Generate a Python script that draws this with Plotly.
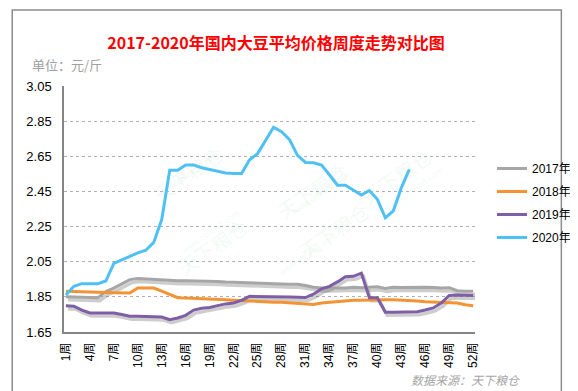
import plotly.graph_objects as go

# ---------------- data ----------------
weeks = list(range(1, 53))
tick_weeks = [1, 4, 7, 10, 13, 16, 19, 22, 25, 28, 31, 34, 37, 40, 43, 46, 49, 52]
tick_labels = ["1周", "4周", "7周", "10周", "13周", "16周", "19周", "22周", "25周",
               "28周", "31周", "34周", "37周", "40周", "43周", "46周", "49周", "52周"]
y_ticks = [1.65, 1.85, 2.05, 2.25, 2.45, 2.65, 2.85, 3.05]

v2017 = [1.850, 1.850, 1.848, 1.846, 1.845, 1.880, 1.900, 1.922, 1.948, 1.955,
         1.952, 1.948, 1.945, 1.942, 1.942, 1.942, 1.942, 1.942, 1.940, 1.938,
         1.935, 1.933, 1.932, 1.928, 1.925, 1.923, 1.923, 1.923, 1.922, 1.922,
         1.915, 1.905, 1.900, 1.900, 1.902, 1.900, 1.905, 1.902, 1.905, 1.907,
         1.898, 1.905, 1.903, 1.905, 1.905, 1.905, 1.903, 1.900, 1.902, 1.885,
         1.882, 1.882]
v2018 = [1.882, 1.880, 1.879, 1.878, 1.876, 1.875, 1.874, 1.873, 1.872, 1.900,
         1.900, 1.900, 1.882, 1.862, 1.845, 1.843, 1.842, 1.840, 1.838, 1.836,
         1.834, 1.831, 1.828, 1.825, 1.823, 1.821, 1.820, 1.819, 1.816, 1.812,
         1.808, 1.806, 1.815, 1.819, 1.822, 1.828, 1.831, 1.831, 1.833, 1.834,
         1.834, 1.833, 1.832, 1.829, 1.826, 1.822, 1.820, 1.819, 1.819, 1.815,
         1.805, 1.800]
v2019 = [1.800, 1.797, 1.775, 1.758, 1.758, 1.758, 1.758, 1.750, 1.740, 1.739,
         1.739, 1.739, 1.735, 1.720, 1.730, 1.745, 1.775, 1.785, 1.790, 1.800,
         1.810, 1.815, 1.830, 1.853, 1.853, 1.852, 1.851, 1.850, 1.849, 1.848,
         1.846, 1.865, 1.895, 1.910, 1.935, 1.965, 1.967, 1.985, 1.845, 1.845,
         1.762, 1.762, 1.762, 1.762, 1.765, 1.775, 1.787, 1.815, 1.858, 1.860,
         1.860, 1.858]
v2020 = [1.860, 1.910, 1.925, 1.925, 1.925, 1.940, 2.040, 2.060, 2.080, 2.100,
         2.115, 2.160, 2.290, 2.570, 2.570, 2.600, 2.600, 2.585, 2.575, 2.565,
         2.555, 2.552, 2.552, 2.630, 2.665, 2.740, 2.815, 2.790, 2.745, 2.655,
         2.615, 2.613, 2.600, 2.545, 2.485, 2.485, 2.455, 2.430, 2.455, 2.405,
         2.300, 2.340, 2.470, 2.575]

series_names = ["2017年", "2018年", "2019年", "2020年"]
series_values = [v2017, v2018, v2019, v2020]
series_colors = ["#a6a6a6", "#f39333", "#7e5ea5", "#4fc0f6"]

# ---------------- layout geometry ----------------
W, H = 578, 391
L, R, T, B = 56, 485, 78, 324
X_RANGE = [0.76, 52.24]
Y_RANGE = [1.65, 3.05]
dx_units = 2.0 * (X_RANGE[1] - X_RANGE[0]) / (R - L)
dy_units = 3.0 * (Y_RANGE[1] - Y_RANGE[0]) / (B - T)


def px(x):
    return (x - L) / (R - L)


def py(y):
    return (B - y) / (B - T)


FONT = "Liberation Sans, Arial, Noto Sans CJK SC, sans-serif"
CJK = "Noto Sans CJK SC, Microsoft YaHei, sans-serif"

fig = go.Figure()

# invisible anchor trace on main axes
fig.add_trace(go.Scatter(x=[weeks[0]], y=[Y_RANGE[0]], mode="markers",
                         marker=dict(opacity=0), showlegend=False,
                         hoverinfo="skip", xaxis="x", yaxis="y"))

# shadows (drawn on a slightly offset overlay axis)
for name, vals in zip(series_names, series_values):
    if name in ("2017年", "2019年"):
        fig.add_trace(go.Scatter(x=weeks[:len(vals)], y=vals, mode="lines",
                                 line=dict(color="rgba(90,90,90,0.30)", width=3.5),
                                 showlegend=False, hoverinfo="skip",
                                 xaxis="x2", yaxis="y2"))

# main lines
for name, vals, col in zip(series_names, series_values, series_colors):
    fig.add_trace(go.Scatter(x=weeks[:len(vals)], y=vals, mode="lines", name=name,
                             line=dict(color=col, width=3), legendgroup=name,
                             xaxis="x3", yaxis="y3"))

fig.update_layout(
    width=W, height=H,
    margin=dict(l=L, r=W - R, t=T, b=H - B, pad=0),
    paper_bgcolor="white", plot_bgcolor="white",
    font=dict(family=FONT, size=12, color="black"),
    title=dict(text="<b>2017-2020年国内大豆平均价格周度走势对比图</b>",
               font=dict(family=CJK, size=16, color="#ff0000"),
               x=268 / W, xanchor="center", y=1 - 35 / H, yanchor="middle",
               xref="container", yref="container"),
    xaxis=dict(range=X_RANGE, tickmode="array", tickvals=tick_weeks, ticktext=tick_labels,
               tickangle=-90, showgrid=False, zeroline=False,
               showline=True, linecolor="#868686", linewidth=1.5, ticks="",
               ticklabelstandoff=4,
               tickfont=dict(family=FONT, size=12, color="black")),
    yaxis=dict(range=Y_RANGE, tickmode="array", tickvals=y_ticks,
               ticktext=[f"{v:.2f}" for v in y_ticks],
               showgrid=True, gridcolor="#b0b0b0", griddash="dot", gridwidth=1,
               zeroline=False, showline=True, linecolor="#868686", linewidth=1.5,
               ticks="", ticklabelstandoff=8,
               tickfont=dict(family=FONT, size=13, color="black")),
    xaxis2=dict(range=[X_RANGE[0] - dx_units, X_RANGE[1] - dx_units], overlaying="x",
                visible=False),
    yaxis2=dict(range=[Y_RANGE[0] + dy_units, Y_RANGE[1] + dy_units], overlaying="y",
                visible=False),
    xaxis3=dict(range=X_RANGE, overlaying="x", visible=False),
    yaxis3=dict(range=Y_RANGE, overlaying="y", visible=False),
    legend=dict(xref="container", yref="container", x=484 / W, y=1 - 146 / H,
                xanchor="left", yanchor="top", bgcolor="rgba(0,0,0,0)",
                font=dict(family=FONT, size=12, color="black"),
                tracegroupgap=4, itemwidth=30),
    showlegend=True,
)

# outer border
fig.add_shape(type="rect", xref="paper", yref="paper",
              x0=px(2), x1=px(575), y0=py(387), y1=py(2),
              line=dict(color="#8c8c8c", width=1.5), fillcolor="rgba(0,0,0,0)",
              layer="below")

# unit label
fig.add_annotation(text="单位：元/斤", xref="paper", yref="paper", x=px(20), y=py(57),
                   xanchor="left", yanchor="middle", showarrow=False,
                   font=dict(family=CJK, size=13, color="#a0a0a0"))

# source label
fig.add_annotation(text="<i>数据来源：天下粮仓</i>", xref="paper", yref="paper",
                   x=px(535), y=py(371), xanchor="right", yanchor="middle",
                   showarrow=False, font=dict(family=CJK, size=12, color="#a6a6a6"))

# faint watermarks
for (wx, wy) in [(140, 128), (315, 145), (448, 168), (165, 238), (338, 260)]:
    fig.add_annotation(text="天下粮仓", xref="paper", yref="paper", x=px(wx), y=py(wy),
                       showarrow=False, textangle=-35,
                       font=dict(family=CJK, size=20, color="rgba(150,215,170,0.13)"))
    fig.add_annotation(text="www.cofeed.com", xref="paper", yref="paper",
                       x=px(wx + 8), y=py(wy + 13), showarrow=False, textangle=-35,
                       font=dict(family=FONT, size=9, color="rgba(150,215,170,0.16)"))

fig.write_html("out.html")
